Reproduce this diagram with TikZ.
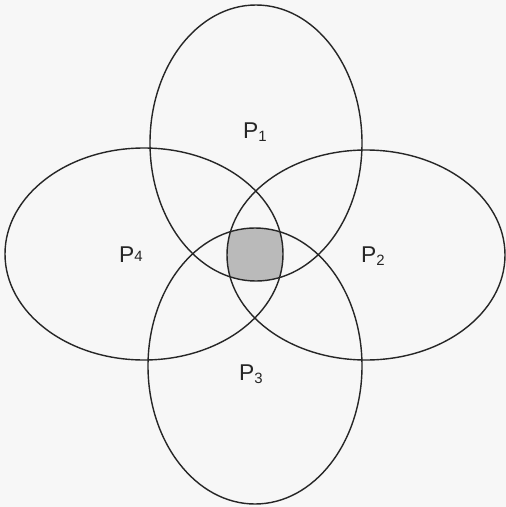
\documentclass[tikz,border=0pt]{standalone}
\usepackage{fontspec}
\setmainfont{Liberation Sans}
\usepackage{tikz}
\usetikzlibrary{positioning}

\newcommand{\plab}[1]{P\raisebox{-1.4pt}{\fontsize{8.5}{9}\selectfont #1}}

\begin{document}
\begin{tikzpicture}[
      x=0.02cm,y=-0.02cm,
      ring/.style={draw=black!85,line width=0.8pt},
      core/.style={fill=black!27},
      lab/.style={font=\fontsize{13}{15}\selectfont,text=black!85,inner sep=0pt}
    ]
    \useasboundingbox[fill=black!3] (0,0) rectangle (506,507);
    \coordinate (c1) at (256,143);
    \coordinate (c2) at (366,255);
    \coordinate (c3) at (255,366);
    \coordinate (c4) at (144,254);
    % shaded common part
    \begin{scope}
      \clip (c1) ellipse [x radius=106, y radius=138];
      \clip (c3) ellipse [x radius=107, y radius=138];
      \clip (c4) ellipse [x radius=139, y radius=106];
      \fill[core] (c2) ellipse [x radius=139, y radius=105];
    \end{scope}
    \draw[ring] (c1) ellipse [x radius=106, y radius=138];
    \draw[ring] (c2) ellipse [x radius=139, y radius=105];
    \draw[ring] (c3) ellipse [x radius=107, y radius=138];
    \draw[ring] (c4) ellipse [x radius=139, y radius=106];
    \node[lab] (p1) at (255,132) {\plab{1}};
    \node[lab] (p2) at (373,256) {\plab{2}};
    \node[lab] (p3) at (251,374) {\plab{3}};
    \node[lab] (p4) at (131,255) {P\raisebox{1pt}{\fontsize{8.5}{9}\selectfont 4}};
  \end{tikzpicture}
\end{document}
